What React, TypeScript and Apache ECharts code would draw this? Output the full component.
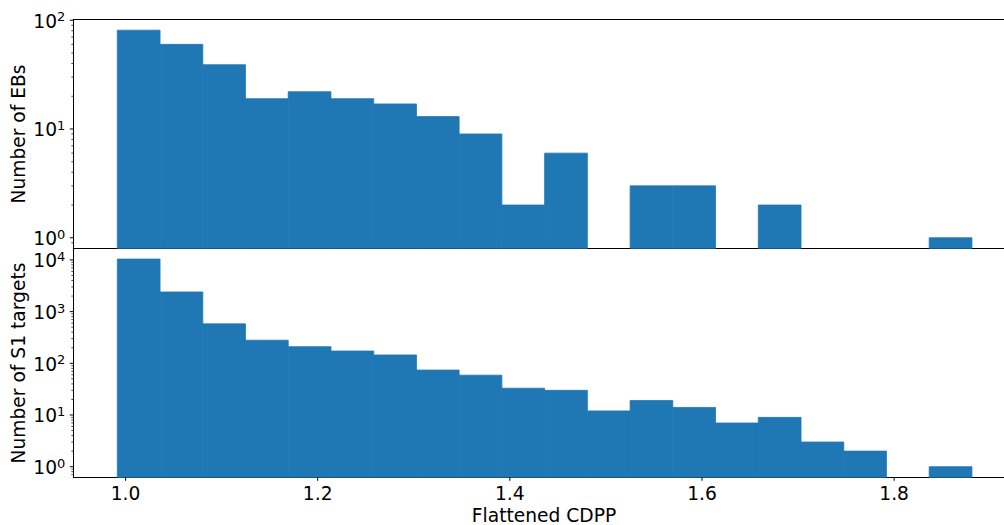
import React, { useEffect, useRef } from 'react';
import * as echarts from 'echarts';

// histogram bin edges (Flattened CDPP)
const BIN_EDGES = [
  0.9914, 1.0359, 1.0804, 1.1248, 1.1693, 1.2138, 1.2583, 1.3028, 1.3472, 1.3917, 1.4362,
  1.4807, 1.5252, 1.5696, 1.6141, 1.6586, 1.7031, 1.7476, 1.792, 1.8365, 1.881,
];
const EB_COUNTS = [81, 60, 39, 19, 22, 19, 17, 13, 9, 2, 6, 0, 3, 3, 0, 2, 0, 0, 0, 1];
const S1_COUNTS = [10400, 2400, 580, 280, 210, 173, 145, 74, 59, 33, 30, 12, 19, 14, 7, 9, 3, 2, 0, 1];

const X_TICKS = [1.0, 1.2, 1.4, 1.6, 1.8];
const TOP_MAJOR = [1, 10, 100];
const TOP_MINOR = [0.9, 2, 3, 4, 5, 6, 7, 8, 9, 20, 30, 40, 50, 60, 70, 80, 90];
const BOTTOM_MAJOR = [1, 10, 100, 1000, 10000];
const BOTTOM_MINOR = [
  0.7, 0.8, 0.9, 2, 3, 4, 5, 6, 7, 8, 9, 20, 30, 40, 50, 60, 70, 80, 90, 200, 300, 400, 500,
  600, 700, 800, 900, 2000, 3000, 4000, 5000, 6000, 7000, 8000, 9000,
];

const X_MIN = 0.9456;
const X_MAX = 1.9255;
const TOP_Y_MIN = 0.8;
const TOP_Y_MAX = 102;
const BOTTOM_Y_MIN = 0.623;
const BOTTOM_Y_MAX = 16800;

const BAR_COLOR = '#1f77b4';
const FONT = 'DejaVu Sans';
const FONT_SIZE = 18.67;

const histData = (counts: number[]) =>
  counts
    .map((c, i) => [BIN_EDGES[i], BIN_EDGES[i + 1], c])
    .filter((d) => d[2] > 0);

const renderBars = (params: any, api: any) => {
  const cs = params.coordSys;
  const count = api.value(2);
  const p0 = api.coord([api.value(0), count]);
  const p1 = api.coord([api.value(1), count]);
  const baseY = cs.y + cs.height;
  return {
    type: 'rect',
    shape: { x: p0[0], y: p0[1], width: p1[0] - p0[0], height: baseY - p0[1] },
    style: { fill: BAR_COLOR, stroke: BAR_COLOR, lineWidth: 0.8 },
  };
};

const renderYTicks = (params: any, api: any) => {
  const cs = params.coordSys;
  const v = api.value(1);
  const major = api.value(2) === 1;
  const y = api.coord([X_MIN, v])[1];
  const len = major ? 3.5 : 2;
  const children: any[] = [
    {
      type: 'line',
      shape: { x1: cs.x - len, y1: y, x2: cs.x, y2: y },
      style: { stroke: '#000', lineWidth: major ? 1 : 0.7 },
    },
  ];
  if (major) {
    const exp = Math.round(Math.log10(v));
    children.push({
      type: 'text',
      style: {
        x: cs.x - 8,
        y: y + 1,
        text: `{b|10}{s|${exp}}`,
        align: 'right',
        verticalAlign: 'middle',
        fill: '#000',
        rich: {
          b: { fontSize: FONT_SIZE, fontFamily: FONT, lineHeight: 22, fill: '#000' },
          s: {
            fontSize: 13,
            fontFamily: FONT,
            lineHeight: 13,
            verticalAlign: 'top',
            fill: '#000',
          },
        },
      },
    });
  }
  return { type: 'group', children };
};

const renderXTicks = (params: any, api: any) => {
  const cs = params.coordSys;
  const v = api.value(0);
  const x = api.coord([v, BOTTOM_Y_MIN])[0];
  const y0 = cs.y + cs.height;
  return {
    type: 'group',
    children: [
      {
        type: 'line',
        shape: { x1: x, y1: y0, x2: x, y2: y0 + 3.5 },
        style: { stroke: '#000', lineWidth: 1 },
      },
      {
        type: 'text',
        style: {
          x,
          y: y0 + 16,
          text: v.toFixed(1),
          align: 'center',
          verticalAlign: 'middle',
          fill: '#000',
          fontSize: FONT_SIZE,
          fontFamily: FONT,
        },
      },
    ],
  };
};

const tickData = (major: number[], minor: number[]) => [
  ...major.map((v) => [X_MIN, v, 1]),
  ...minor.map((v) => [X_MIN, v, 0]),
];

const axisLine = { show: true, lineStyle: { color: '#000', width: 1 } };

export default function App() {
  const chartRef = useRef<HTMLDivElement>(null);

  useEffect(() => {
    if (!chartRef.current) return;
    const chart = echarts.init(chartRef.current, undefined, { renderer: 'svg' });

    const plainX = (gridIndex: number, position: 'top' | 'bottom') => ({
      type: 'value' as const,
      gridIndex,
      position,
      min: X_MIN,
      max: X_MAX,
      axisLine,
      axisTick: { show: false },
      axisLabel: { show: false },
      splitLine: { show: false },
    });

    const logY = (gridIndex: number, min: number, max: number) => ({
      type: 'log' as const,
      logBase: 10,
      gridIndex,
      min,
      max,
      axisLine,
      axisTick: { show: false },
      axisLabel: { show: false },
      splitLine: { show: false },
    });

    chart.setOption({
      animation: false,
      backgroundColor: '#fff',
      textStyle: { fontFamily: FONT },
      grid: [
        { left: 73.3, top: 19.3, width: 941.4, height: 229, outerBoundsMode: 'none' },
        { left: 73.3, top: 248.3, width: 941.4, height: 229, outerBoundsMode: 'none' },
      ],
      xAxis: [plainX(0, 'bottom'), plainX(0, 'top'), plainX(1, 'bottom')],
      yAxis: [logY(0, TOP_Y_MIN, TOP_Y_MAX), logY(1, BOTTOM_Y_MIN, BOTTOM_Y_MAX)],
      series: [
        {
          name: 'EBs',
          type: 'custom',
          xAxisIndex: 0,
          yAxisIndex: 0,
          renderItem: renderBars,
          encode: { x: [0, 1], y: 2 },
          data: histData(EB_COUNTS),
          silent: true,
        },
        {
          name: 'S1 targets',
          type: 'custom',
          xAxisIndex: 2,
          yAxisIndex: 1,
          renderItem: renderBars,
          encode: { x: [0, 1], y: 2 },
          data: histData(S1_COUNTS),
          silent: true,
        },
        {
          name: 'topTicks',
          type: 'custom',
          xAxisIndex: 0,
          yAxisIndex: 0,
          renderItem: renderYTicks,
          encode: { x: 0, y: 1 },
          data: tickData(TOP_MAJOR, TOP_MINOR),
          silent: true,
          clip: false,
        },
        {
          name: 'bottomTicks',
          type: 'custom',
          xAxisIndex: 2,
          yAxisIndex: 1,
          renderItem: renderYTicks,
          encode: { x: 0, y: 1 },
          data: tickData(BOTTOM_MAJOR, BOTTOM_MINOR),
          silent: true,
          clip: false,
        },
        {
          name: 'xTicks',
          type: 'custom',
          xAxisIndex: 2,
          yAxisIndex: 1,
          renderItem: renderXTicks,
          encode: { x: 0, y: 1 },
          data: X_TICKS.map((v) => [v, BOTTOM_Y_MIN]),
          silent: true,
          clip: false,
        },
      ],
      graphic: [
        {
          type: 'text',
          x: 18,
          y: 134,
          rotation: Math.PI / 2,
          style: {
            text: 'Number of EBs',
            fill: '#000',
            fontSize: FONT_SIZE,
            fontFamily: FONT,
            align: 'center',
            verticalAlign: 'middle',
          },
        },
        {
          type: 'text',
          x: 18,
          y: 363,
          rotation: Math.PI / 2,
          style: {
            text: 'Number of S1 targets',
            fill: '#000',
            fontSize: FONT_SIZE,
            fontFamily: FONT,
            align: 'center',
            verticalAlign: 'middle',
          },
        },
        {
          type: 'text',
          x: 544,
          y: 515,
          style: {
            text: 'Flattened CDPP',
            fill: '#000',
            fontSize: FONT_SIZE,
            fontFamily: FONT,
            align: 'center',
            verticalAlign: 'middle',
          },
        },
      ],
    });

    return () => {
      chart.dispose();
    };
  }, []);

  return (
    <div
      style={{
        position: 'absolute',
        left: 0,
        top: 0,
        width: 1004,
        height: 525,
        overflow: 'hidden',
      }}
    >
      <div ref={chartRef} style={{ width: 1024, height: 525 }} />
    </div>
  );
}
